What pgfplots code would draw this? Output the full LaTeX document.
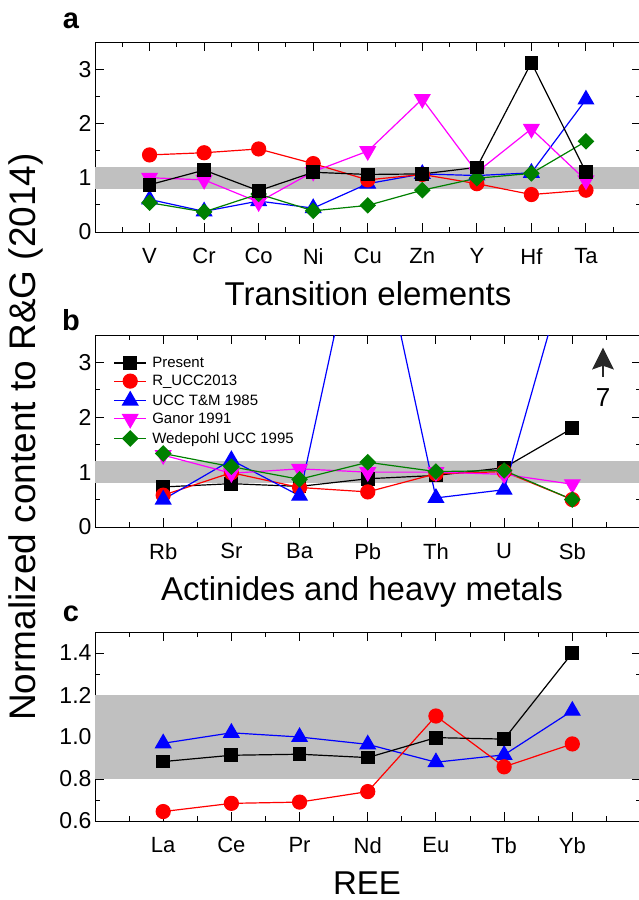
\documentclass[border=0pt]{standalone}
\usepackage{pgfplots}
\pgfplotsset{compat=1.18}
\usepackage{fontspec}
\setmainfont{Liberation Sans}
\definecolor{bandgray}{RGB}{192,192,192}
\definecolor{dgreen}{RGB}{0,128,0}
\definecolor{cred}{RGB}{255,0,0}
\definecolor{cblue}{RGB}{0,0,255}
\definecolor{cmag}{RGB}{255,0,255}
\definecolor{arrowgray}{RGB}{40,40,40}
\pgfplotsset{
  panel/.style={
    width=545.5pt, scale only axis, anchor=north west,
    axis line style={line width=1pt},
    every tick/.style={black, line width=1pt},
    tick align=inside, major tick length=9pt, minor tick length=5pt,
    tick label style={font=\fontsize{23}{23}\selectfont},
    xticklabel style={font=\fontsize{22}{22}\selectfont, yshift=-13pt},
    /pgf/number format/assume math mode=true,
    clip=true,
  },
  sP/.style={black, line width=1.2pt, mark=square*, mark size=6.3pt},
  sR/.style={cred, line width=1.2pt, mark=*, mark size=7pt},
  sU/.style={cblue, line width=1.2pt, mark=triangle*, mark size=8.7pt},
  sG/.style={cmag, line width=1.2pt, mark=triangle*, mark size=8.7pt, mark options={rotate=180}},
  sW/.style={dgreen, line width=1.2pt, mark=square*, mark size=5.3pt, mark options={rotate=45}},
  band/.style={draw=none, fill=bandgray, forget plot},
}
\begin{document}
\begin{tikzpicture}[x=1pt,y=1pt]
\path[use as bounding box] (0,0) rectangle (639,-900);

% ---------------- panel a
\begin{axis}[panel, at={(95pt,-42pt)}, height=190pt,
  xmin=0, xmax=10, ymin=0, ymax=3.5,
  xtick={1,...,9}, xticklabels={V,Cr,Co,Ni,Cu,Zn,Y,Hf,Ta},
  minor xtick={0.5,1.5,...,9.5},
  ytick={0,1,2,3}, minor ytick={0.5,1.5,2.5,3.5}]
\addplot[band] coordinates {(0,0.8) (10,0.8) (10,1.2) (0,1.2)};
\addplot[sU] coordinates {(1,0.60) (2,0.38) (3,0.57) (4,0.44) (5,0.89) (6,1.07) (7,1.04) (8,1.09) (9,2.44)};
\addplot[sR] coordinates {(1,1.42) (2,1.46) (3,1.53) (4,1.26) (5,0.96) (6,1.06) (7,0.89) (8,0.69) (9,0.77)};
\addplot[sG] coordinates {(1,1.00) (2,0.96) (3,0.55) (4,1.11) (5,1.49) (6,2.45) (7,1.10) (8,1.90) (9,0.95)};
\addplot[sW] coordinates {(1,0.54) (2,0.37) (3,0.70) (4,0.39) (5,0.49) (6,0.77) (7,0.99) (8,1.08) (9,1.67)};
\addplot[sP] coordinates {(1,0.87) (2,1.14) (3,0.76) (4,1.10) (5,1.06) (6,1.07) (7,1.19) (8,3.12) (9,1.10)};
\end{axis}

% ---------------- panel b
\begin{axis}[panel, at={(95pt,-335pt)}, height=192pt,
  xmin=0, xmax=8, ymin=0, ymax=3.5,
  xtick={1,...,7}, xticklabels={Rb,Sr,Ba,Pb,Th,U,Sb},
  minor xtick={0.5,1.5,...,7.5},
  ytick={0,1,2,3}, minor ytick={0.5,1.5,2.5,3.5},
  legend cell align=left,
  legend style={draw=none, fill=none, at={(axis cs:0.27,3.13)}, anchor=north west,
    font=\fontsize{15}{15}\selectfont, inner sep=0pt, row sep=3.3pt,
    /tikz/every odd column/.append style={column sep=4pt},
    nodes={inner sep=1.5pt}},
  legend image code/.code={\draw[mark repeat=2,mark phase=2] plot coordinates {(0pt,0pt) (16pt,0pt) (32pt,0pt)};},
  ]
\addplot[band] coordinates {(0,0.8) (8,0.8) (8,1.2) (0,1.2)};
\addplot[sP] coordinates {(1,0.73) (2,0.79) (3,0.74) (4,0.88) (5,0.94) (6,1.08) (7,1.80)};
\addlegendentry{Present}
\addplot[sR] coordinates {(1,0.58) (2,0.99) (3,0.72) (4,0.64) (5,0.97) (6,1.01) (7,0.50)};
\addlegendentry{R\_UCC2013}
\addplot[sU] coordinates {(1,0.50) (2,1.22) (3,0.57) (4,6.3) (5,0.53) (6,0.68) (7,5.05)};
\addlegendentry{UCC T\&M 1985}
\addplot[sG] coordinates {(1,1.31) (2,0.98) (3,1.06) (4,1.00) (5,1.00) (6,0.96) (7,0.78)};
\addlegendentry{Ganor 1991}
\addplot[sW] coordinates {(1,1.34) (2,1.10) (3,0.87) (4,1.18) (5,1.01) (6,1.03) (7,0.50)};
\addlegendentry{Wedepohl UCC 1995}
\draw[arrowgray, line width=2.8pt] (axis cs:7.45,2.74) -- (axis cs:7.45,2.97);
\fill[arrowgray] (axis cs:7.45,3.27) -- (axis cs:7.61,2.87) -- (axis cs:7.45,2.94) -- (axis cs:7.29,2.87) -- cycle;
\node[font=\fontsize{26}{26}\selectfont] at (axis cs:7.45,2.36) {7};
\end{axis}

% ---------------- panel c
\begin{axis}[panel, at={(95pt,-632pt)}, height=189pt,
  xmin=0, xmax=8, ymin=0.6, ymax=1.5,
  xtick={1,...,7}, xticklabels={La,Ce,Pr,Nd,Eu,Tb,Yb},
  minor xtick={0.5,1.5,...,7.5},
  ytick={0.6,0.8,1.0,1.2,1.4}, minor ytick={0.7,0.9,1.1,1.3,1.5},
  yticklabel style={/pgf/number format/fixed, /pgf/number format/fixed zerofill, /pgf/number format/precision=1}]
\addplot[band] coordinates {(0,0.8) (8,0.8) (8,1.2) (0,1.2)};
\addplot[sU] coordinates {(1,0.97) (2,1.02) (3,1.00) (4,0.965) (5,0.88) (6,0.915) (7,1.125)};
\addplot[sR] coordinates {(1,0.645) (2,0.684) (3,0.69) (4,0.74) (5,1.10) (6,0.858) (7,0.967)};
\addplot[sP] coordinates {(1,0.883) (2,0.913) (3,0.918) (4,0.902) (5,0.997) (6,0.99) (7,1.40)};
\end{axis}

% ---------------- labels
\node[font=\bfseries\fontsize{29}{29}\selectfont] at (71,-21) {a};
\node[font=\bfseries\fontsize{29}{29}\selectfont] at (71,-320) {b};
\node[font=\bfseries\fontsize{29}{29}\selectfont] at (71,-614) {c};
\node[font=\fontsize{33}{33}\selectfont] at (368,-294) {Transition elements};
\node[font=\fontsize{33}{33}\selectfont] at (362,-592) {Actinides and heavy metals};
\node[font=\fontsize{33}{33}\selectfont] at (367,-883) {REE};
\node[font=\fontsize{37}{37}\selectfont, rotate=90] at (26,-437) {Normalized content to R\&G (2014)};
\end{tikzpicture}
\end{document}
